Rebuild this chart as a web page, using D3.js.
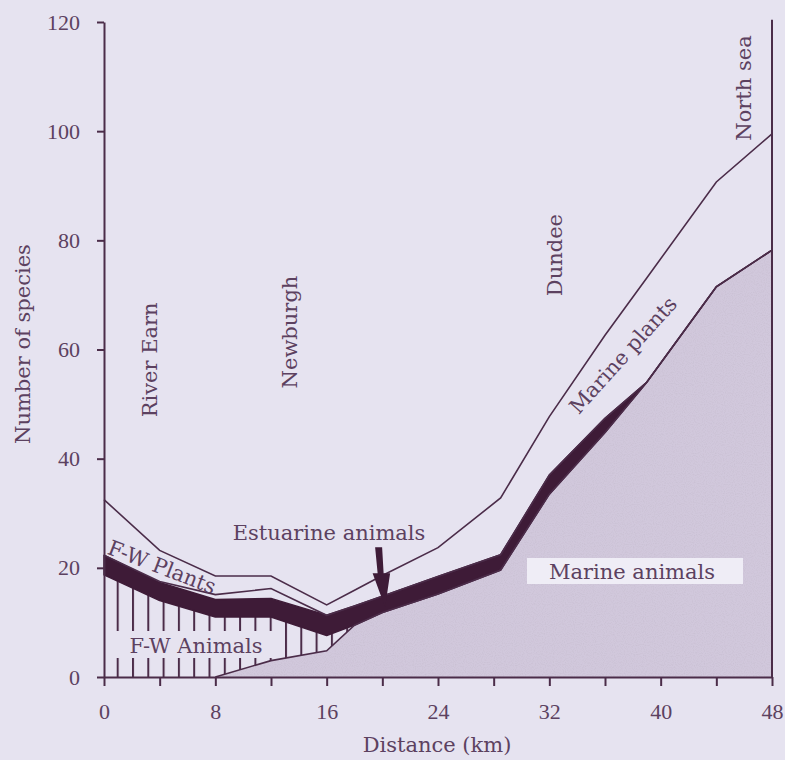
<!DOCTYPE html>
<html>
<head>
<meta charset="utf-8">
<script src="https://cdn.jsdelivr.net/npm/d3@7"></script>
<style>
  html, body { margin: 0; padding: 0; background: #e6e3f0; }
  svg { display: block; }
</style>
</head>
<body>
<svg id="chart" width="785" height="760"></svg>
<script>
// ---- data ----
const distance         = [0, 4, 8, 12, 16, 18, 20, 24, 28.5, 32, 36, 39, 44, 48];
const marineAnimals    = [0, 0, 0, 3.0, 4.8, 9.5, 11.8, 15.2, 19.6, 33.5, 44.8, 54, 71.5, 78.2];
const fwAnimals        = [18.7, 14.0, 11.0, 8.0, 2.8, 0, 0, 0, 0, 0, 0, 0, 0, 0];
const estuarineAnimals = [3.6, 3.3, 3.2, 3.4, 3.7, 3.5, 3.0, 3.2, 2.8, 3.5, 2.6, 0, 0, 0];
const fwPlants         = [0, 0.2, 0.9, 1.8, 0, 0, 0, 0, 0, 0, 0, 0, 0, 0];
const marinePlants     = [10.2, 5.7, 3.4, 2.3, 1.9, 2.9, 3.8, 5.3, 10.4, 10.7, 15.2, 19.1, 19.2, 21.3];
const yTicks = [0, 20, 40, 60, 80, 100, 120];
const xTicks = [0, 4, 8, 12, 16, 20, 24, 28, 32, 36, 40, 44, 48];
const xLabelEvery = 8;
const places = [
  {name: "River Earn", km: 3.8, at: 58.1},
  {name: "Newburgh", km: 13.9, at: 63.2},
  {name: "Dundee", km: 32.9, at: 77.3},
  {name: "North sea", km: 46.5, at: 107.9}
];

// ---- layout ----
const bg = "#e6e3f0", ink = "#4b2c49", txt = "#5c4160", band = "#3e1b37", marineFill = "#d1c8dc";
const serif = "DejaVu Serif", fs = 21;
const svg = d3.select("#chart");
const x = d3.scaleLinear().domain([0, 48]).range([104, 772]);
const y = d3.scaleLinear().domain([0, 120]).range([677, 22]);

const keys = ["marineAnimals", "fwAnimals", "estuarineAnimals", "fwPlants", "marinePlants"];
const rows = distance.map((d, i) => ({
  km: d,
  marineAnimals: marineAnimals[i],
  fwAnimals: fwAnimals[i],
  estuarineAnimals: estuarineAnimals[i],
  fwPlants: fwPlants[i],
  marinePlants: marinePlants[i]
}));
const stacked = d3.stack().keys(keys)(rows);
const layer = k => stacked[keys.indexOf(k)];

svg.append("rect").attr("width", 785).attr("height", 760).attr("fill", bg);

const defs = svg.append("defs");
const pat = defs.append("pattern").attr("id", "hatch").attr("patternUnits", "userSpaceOnUse")
  .attr("x", 116.7).attr("y", 0).attr("width", 15.3).attr("height", 10);
pat.append("line").attr("x1", 1).attr("x2", 1).attr("y1", 0).attr("y2", 10)
  .attr("stroke", ink).attr("stroke-width", 2);
const filt = defs.append("filter").attr("id", "speckle").attr("x", 0).attr("y", 0).attr("width", 1).attr("height", 1);
filt.append("feTurbulence").attr("type", "fractalNoise").attr("baseFrequency", 0.9).attr("numOctaves", 1).attr("seed", 3).attr("result", "n");
filt.append("feColorMatrix").attr("in", "n").attr("type", "matrix")
  .attr("values", "0 0 0 0 0.5  0 0 0 0 0.45  0 0 0 0 0.55  0 0 0 -0.9 0.5").attr("result", "dots");
filt.append("feComposite").attr("in", "dots").attr("in2", "SourceGraphic").attr("operator", "in").attr("result", "d2");
filt.append("feMerge").selectAll("feMergeNode").data(["SourceGraphic", "d2"]).join("feMergeNode").attr("in", d => d);

const area = d3.area().x(d => x(d.data.km)).y0(d => y(d[0])).y1(d => y(d[1])).curve(d3.curveLinear);
const line = d3.line().x(d => x(d.data.km)).y(d => y(d[1])).curve(d3.curveLinear);

// marine animals
svg.append("path").datum(layer("marineAnimals")).attr("d", area)
  .attr("fill", marineFill).attr("filter", "url(#speckle)");
// fresh-water animals (hatched)
svg.append("path").datum(layer("fwAnimals")).attr("d", area).attr("fill", "url(#hatch)");

// F-W Animals label with box
svg.append("rect").attr("x", 110).attr("y", 631).attr("width", 166).attr("height", 27).attr("fill", bg);
svg.append("text").attr("x", 196).attr("y", 653).attr("text-anchor", "middle")
  .attr("font-family", serif).attr("font-size", fs).attr("fill", txt).text("F-W Animals");

// estuarine animals (thick dark band)
svg.append("path").datum(layer("estuarineAnimals")).attr("d", area)
  .attr("fill", band).attr("stroke", band).attr("stroke-width", 1.5).attr("stroke-linejoin", "round");

// boundary lines
const mLine = layer("marineAnimals").filter(d => d.data.km >= 8);
svg.append("path").datum(mLine).attr("d", line).attr("fill", "none").attr("stroke", ink).attr("stroke-width", 1.6);
svg.append("path").datum(layer("fwPlants")).attr("d", line).attr("fill", "none").attr("stroke", ink).attr("stroke-width", 1.6);
svg.append("path").datum(layer("marinePlants")).attr("d", line).attr("fill", "none").attr("stroke", ink).attr("stroke-width", 1.6);

// axes
const yAxis = d3.axisLeft(y).tickValues(yTicks).tickSizeInner(7).tickSizeOuter(0).tickPadding(17);
const xAxis = d3.axisBottom(x).tickValues(xTicks).tickSizeInner(9).tickSizeOuter(0).tickPadding(17)
  .tickFormat(d => d % xLabelEvery === 0 ? d : "");
const gy = svg.append("g").attr("transform", `translate(${x(0)},0)`).call(yAxis);
const gx = svg.append("g").attr("transform", `translate(0,${y(0)})`).call(xAxis);
[gx, gy].forEach(g => {
  g.select(".domain").attr("stroke", ink).attr("stroke-width", 2);
  g.selectAll(".tick line").attr("stroke", ink).attr("stroke-width", 2);
  g.selectAll(".tick text").attr("fill", txt).attr("font-family", "Liberation Serif").attr("font-size", 22);
});
// right border
svg.append("line").attr("x1", x(48)).attr("x2", x(48)).attr("y1", y(120.4)).attr("y2", y(0))
  .attr("stroke", ink).attr("stroke-width", 2);

// axis titles
svg.append("text").attr("transform", `translate(30,${y(61)}) rotate(-90)`).attr("text-anchor", "middle")
  .attr("font-family", serif).attr("font-size", fs).attr("fill", txt).text("Number of species");
svg.append("text").attr("x", 437).attr("y", 752).attr("text-anchor", "middle")
  .attr("font-family", serif).attr("font-size", fs).attr("fill", txt).text("Distance (km)");

// place names
places.forEach(p => {
  svg.append("text").attr("transform", `translate(${x(p.km)},${y(p.at)}) rotate(-90)`)
    .attr("text-anchor", "middle").attr("font-family", serif).attr("font-size", fs)
    .attr("fill", txt).text(p.name);
});

// layer labels
svg.append("text").attr("x", 329).attr("y", 540).attr("text-anchor", "middle")
  .attr("font-family", serif).attr("font-size", fs).attr("fill", txt).text("Estuarine animals");
svg.append("text").attr("transform", "translate(162,567) rotate(21)").attr("text-anchor", "middle").attr("dy", "0.35em")
  .attr("font-family", serif).attr("font-size", fs).attr("fill", txt).text("F-W Plants");
svg.append("text").attr("transform", "translate(623,355) rotate(-48)").attr("text-anchor", "middle").attr("dy", "0.35em")
  .attr("font-family", serif).attr("font-size", fs).attr("fill", txt).text("Marine plants");
svg.append("rect").attr("x", 527).attr("y", 558).attr("width", 216).attr("height", 26).attr("fill", "#efedf6");
svg.append("text").attr("x", 632).attr("y", 579).attr("text-anchor", "middle")
  .attr("font-family", serif).attr("font-size", fs).attr("fill", txt).text("Marine animals");

// arrow pointing to estuarine band
const tip = [x(20.2), y(12.8)];
const arrow = d3.path();
arrow.moveTo(tip[0] - 10, tip[1] - 60);
arrow.lineTo(tip[0] - 3, tip[1] - 60);
arrow.lineTo(tip[0] - 1.5, tip[1] - 34);
arrow.lineTo(tip[0] + 5, tip[1] - 34);
arrow.lineTo(tip[0], tip[1]);
arrow.lineTo(tip[0] - 12.5, tip[1] - 34);
arrow.lineTo(tip[0] - 7.5, tip[1] - 34);
arrow.closePath();
svg.append("path").attr("d", arrow.toString()).attr("fill", band);
</script>
</body>
</html>
